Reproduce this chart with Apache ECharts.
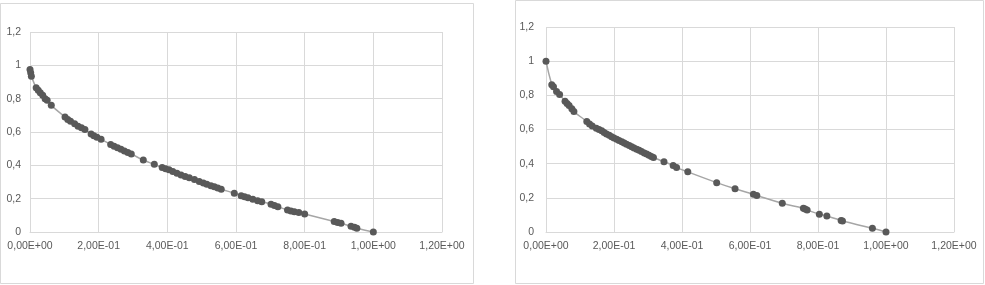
<!DOCTYPE html>
<html><head><meta charset="utf-8">
<script src="https://cdn.jsdelivr.net/npm/echarts@6/dist/echarts.min.js"></script>
<style>html,body{margin:0;padding:0;background:#fff}#c{width:985px;height:285px}</style>
</head><body><div id="c"></div>
<script>
var xTickLabels = ['0,00E+00','2,00E-01','4,00E-01','6,00E-01','8,00E-01','1,00E+00','1,20E+00'];
var yTickLabels = ['0','0,2','0,4','0,6','0,8','1','1,2'];

var leftX = [0.000,0.002,0.004,0.018,0.024,0.030,0.037,0.044,0.050,0.062,0.102,0.110,0.118,0.130,0.140,0.150,0.160,0.178,0.186,0.195,0.207,0.235,0.245,0.255,0.265,0.275,0.285,0.295,0.330,0.362,0.385,0.395,0.405,0.416,0.428,0.440,0.452,0.464,0.479,0.493,0.505,0.515,0.527,0.537,0.547,0.557,0.595,0.615,0.625,0.635,0.649,0.663,0.675,0.702,0.712,0.722,0.750,0.760,0.770,0.783,0.800,0.886,0.896,0.906,0.935,0.945,0.952,1.000];
var leftY = [0.975,0.955,0.935,0.865,0.850,0.835,0.820,0.800,0.790,0.760,0.690,0.675,0.665,0.650,0.635,0.625,0.615,0.588,0.578,0.568,0.556,0.525,0.515,0.505,0.496,0.486,0.477,0.468,0.432,0.406,0.387,0.380,0.373,0.363,0.352,0.342,0.333,0.325,0.315,0.303,0.294,0.287,0.278,0.271,0.264,0.257,0.232,0.218,0.211,0.205,0.197,0.188,0.181,0.167,0.159,0.152,0.132,0.126,0.121,0.117,0.108,0.063,0.057,0.052,0.035,0.028,0.022,0.000];

var rightX = [0.000,0.017,0.022,0.031,0.040,0.056,0.062,0.068,0.076,0.082,0.120,0.128,0.136,0.148,0.156,0.164,0.171,0.178,0.186,0.193,0.200,0.208,0.215,0.223,0.230,0.237,0.245,0.252,0.259,0.267,0.274,0.281,0.289,0.296,0.303,0.310,0.316,0.347,0.374,0.384,0.417,0.502,0.556,0.610,0.620,0.695,0.757,0.762,0.768,0.804,0.826,0.868,0.872,0.960,1.000];
var rightY = [1.000,0.862,0.850,0.823,0.805,0.765,0.752,0.740,0.722,0.705,0.647,0.632,0.620,0.608,0.600,0.592,0.582,0.574,0.566,0.558,0.550,0.543,0.536,0.529,0.521,0.514,0.506,0.499,0.492,0.485,0.478,0.471,0.463,0.456,0.449,0.442,0.436,0.411,0.390,0.378,0.352,0.289,0.253,0.221,0.214,0.168,0.139,0.134,0.129,0.104,0.094,0.068,0.064,0.022,0.000];

function pairs(xs, ys){ return xs.map(function(x,i){return [x, ys[i]];}); }

var labelStyle = {color:'#595959', fontSize:10.5, fontFamily:'Liberation Sans'};
var gridLine = {show:true, lineStyle:{color:'#d9d9d9', width:1}};
function xAxis(gi){
  return {type:'value', gridIndex:gi, min:0, max:1.2, interval:0.2,
    axisLine:{show:true, lineStyle:{color:'#d9d9d9'}}, axisTick:{show:false},
    splitLine:gridLine,
    axisLabel:Object.assign({margin:9, formatter:function(v){return xTickLabels[Math.round(v/0.2)];}}, labelStyle)};
}
function yAxis(gi, m){
  return {type:'value', gridIndex:gi, min:0, max:1.2, interval:0.2,
    axisLine:{show:false}, axisTick:{show:false},
    splitLine:gridLine,
    axisLabel:Object.assign({margin:m, formatter:function(v){return yTickLabels[Math.round(v/0.2)];}}, labelStyle)};
}
function series(gi, data){
  return {type:'line', xAxisIndex:gi, yAxisIndex:gi, data:data, smooth:true,
    symbol:'circle', symbolSize:7, showSymbol:true,
    lineStyle:{color:'#a6a6a6', width:1.5},
    itemStyle:{color:'#595959'}, animation:false, z:3};
}

var chart = echarts.init(document.getElementById('c'), null, {renderer:'canvas'});
chart.setOption({
  animation:false,
  backgroundColor:'#fff',
  graphic:[
    {type:'rect', shape:{x:0.5,y:3.5,width:473,height:280}, style:{fill:'none', stroke:'#d9d9d9', lineWidth:1}, z:-1},
    {type:'rect', shape:{x:515.5,y:0.5,width:468,height:283}, style:{fill:'none', stroke:'#d9d9d9', lineWidth:1}, z:-1}
  ],
  grid:[
    {left:30, top:32, width:412, height:200},
    {left:546, top:27, width:408, height:205}
  ],
  xAxis:[xAxis(0), xAxis(1)],
  yAxis:[yAxis(0,9), yAxis(1,12)],
  series:[series(0, pairs(leftX,leftY)), series(1, pairs(rightX,rightY))]
});
</script></body></html>
